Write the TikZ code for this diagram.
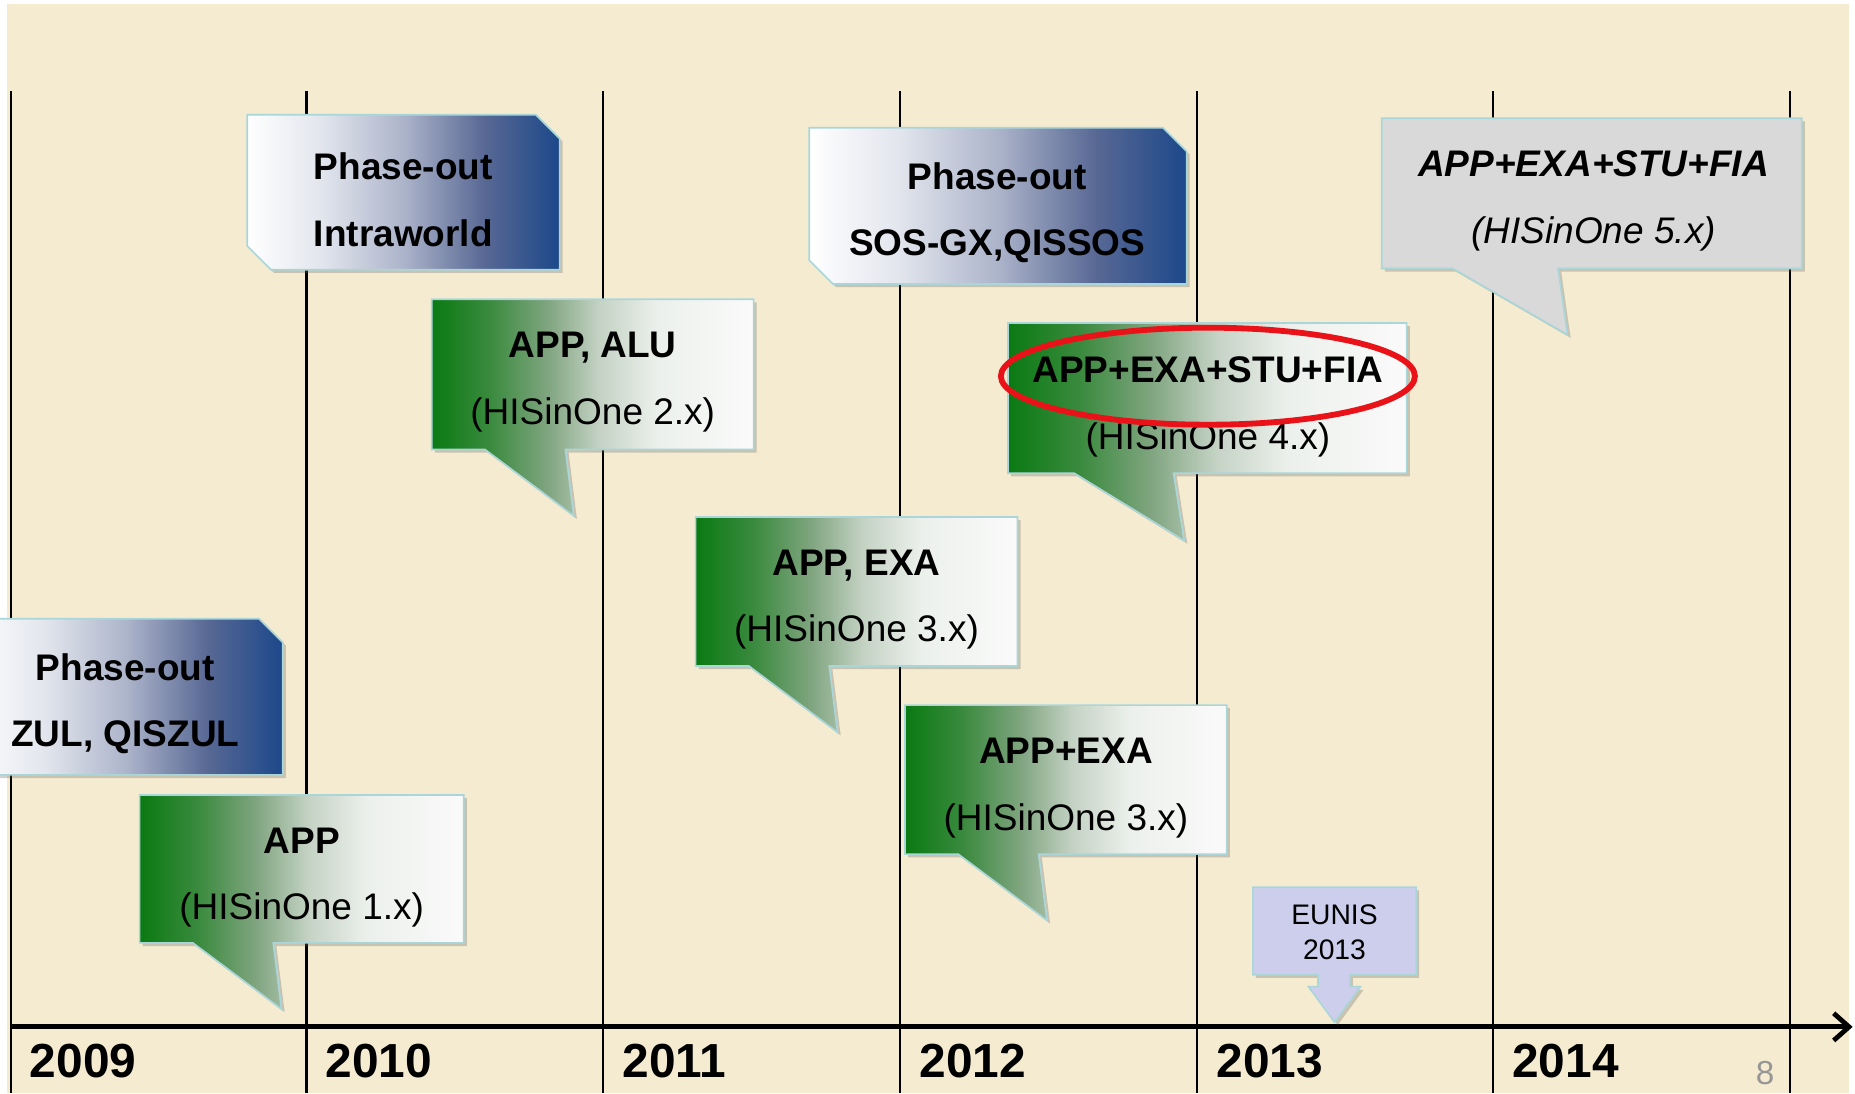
\documentclass[tikz,border=0pt]{standalone}
\usepackage{xcolor}
\usepackage{fontspec}
\setmainfont{Liberation Sans}
\usepackage{tikz}
\usetikzlibrary{positioning,arrows.meta,shadows}

\definecolor{cream}{RGB}{245,235,208}
\definecolor{boxedge}{RGB}{170,214,218}
\definecolor{phaseblue}{RGB}{28,72,138}
\definecolor{appgreen}{RGB}{10,122,18}
\definecolor{futuregray}{RGB}{217,217,217}
\definecolor{eunisblue}{RGB}{205,206,236}
\definecolor{ringred}{RGB}{232,18,24}
\definecolor{pagegray}{RGB}{150,150,150}
%shading steps
\definecolor{blueA}{RGB}{226,229,237}
\definecolor{blueB}{RGB}{172,180,202}
\definecolor{blueC}{RGB}{88,104,148}
\definecolor{greenA}{RGB}{58,138,62}
\definecolor{greenB}{RGB}{128,165,128}
\definecolor{greenC}{RGB}{196,210,196}
\definecolor{greenD}{RGB}{236,240,236}
\definecolor{greenE}{RGB}{250,250,250}

\pgfdeclarehorizontalshading{bluefade}{100bp}{color(0bp)=(white); color(25bp)=(white); color(37bp)=(blueA); color(50bp)=(blueB); color(63bp)=(blueC); color(75bp)=(phaseblue); color(100bp)=(phaseblue)}
\pgfdeclarehorizontalshading{greenfade}{100bp}{color(0bp)=(appgreen); color(25bp)=(appgreen); color(34bp)=(greenA); color(43bp)=(greenB); color(51bp)=(greenC); color(60bp)=(greenD); color(75bp)=(greenE); color(100bp)=(greenE)}

\begin{document}
\begin{tikzpicture}[
				x=0.2mm, y=-0.2mm,
				boxshadow/.style={drop shadow={shadow xshift=1.5pt, shadow yshift=-1.5pt, opacity=0.3, fill=black!60}},
				phasebox/.style={draw=boxedge, line width=0.8pt, shade, shading=bluefade, boxshadow},
				appcallout/.style={draw=boxedge, line width=0.8pt, shade, shading=greenfade, boxshadow},
				nextcallout/.style={draw=boxedge, line width=0.8pt, fill=futuregray, boxshadow},
				eunisarrow/.style={draw=boxedge, line width=0.8pt, fill=eunisblue, boxshadow},
				boxtext/.style={align=center, inner sep=0pt, font=\fontsize{17.8}{32}\selectfont},
				eunistext/.style={align=center, inner sep=0pt, font=\fontsize{13.6}{17}\selectfont},
				yearlabel/.style={anchor=west, inner sep=0pt, font=\bfseries\fontsize{23}{23}\selectfont},
				yearline/.style={line width=1.1pt},
				axisline/.style={line width=2.3pt, -{Straight Barb[length=2.6mm, width=4.6mm]}},
				redring/.style={draw=ringred, line width=2.8pt},
				]
				\useasboundingbox (0,0) rectangle (1568,924);
				\clip (0,0) rectangle (1568,924);
				\fill[white] (0,0) rectangle (1568,924);
				\fill[cream] (6,3) rectangle (1563,924);
				
				%Year lines
				\draw[yearline] (9,77) -- (9,924);
				\draw[yearline] (259,77) -- (259,924);
				\draw[yearline] (510,77) -- (510,924);
				\draw[yearline] (761,77) -- (761,924);
				\draw[yearline] (1012,77) -- (1012,924);
				\draw[yearline] (1262,77) -- (1262,924);
				\draw[yearline] (1513,77) -- (1513,924);
				
				%Axis
				\coordinate (axisstart) at (9,868);
				\coordinate (axisend) at (1566,868);
				\draw[axisline] (axisstart) -- (axisend);
				
				%Years
				\node[yearlabel] (y2009) at (25,897) {2009};
				\node[yearlabel] (y2010) at (275,897) {2010};
				\node[yearlabel] (y2011) at (526,897) {2011};
				\node[yearlabel] (y2012) at (777,897) {2012};
				\node[yearlabel] (y2013) at (1028,897) {2013};
				\node[yearlabel] (y2014) at (1278,897) {2014};
				\node[font=\fontsize{16}{16}\selectfont, text=pagegray, inner sep=0pt] (pagenum) at (1492,907) {8};
				
				%Phase-out boxes
				\draw[phasebox] (209,97) -- (453,97) -- (473,117) -- (473,228) -- (229,228) -- (209,208) -- cycle;
				\draw[phasebox] (684,108) -- (983,108) -- (1003,128) -- (1003,240) -- (704,240) -- (684,220) -- cycle;
				\draw[phasebox] (-25,523) -- (219,523) -- (239,543) -- (239,655) -- (-5,655) -- (-25,635) -- cycle;
				
				%Release callouts
				\draw[appcallout] (118,672) -- (392,672) -- (392,797) -- (231,797) -- (238,853) -- (163,797) -- (118,797) -- cycle;
				\draw[appcallout] (365,253) -- (637,253) -- (637,380) -- (478,380) -- (485,436) -- (410,380) -- (365,380) -- cycle;
				\draw[appcallout] (588,437) -- (860,437) -- (860,563) -- (701,563) -- (708,619) -- (633,563) -- (588,563) -- cycle;
				\draw[appcallout] (765,596) -- (1037,596) -- (1037,722) -- (878,722) -- (885,778) -- (810,722) -- (765,722) -- cycle;
				\draw[appcallout] (852,273) -- (1189,273) -- (1189,400) -- (992,400) -- (1001,457) -- (908,400) -- (852,400) -- cycle;
				\draw[nextcallout] (1168,100) -- (1523,100) -- (1523,227) -- (1317,227) -- (1325,283) -- (1228,227) -- (1168,227) -- cycle;
				\draw[eunisarrow] (1059,750) -- (1197,750) -- (1197,824) -- (1141,824) -- (1141,834) -- (1150,834) -- (1128,864) -- (1106,834) -- (1114,834) -- (1114,824) -- (1059,824) -- cycle;
				
				%Nodes
				\node[boxtext, font=\bfseries\fontsize{17.8}{32}\selectfont] (intra) at (341,169) {Phase-out\\Intraworld};
				\node[boxtext, font=\bfseries\fontsize{17.8}{32}\selectfont] (sosgx) at (843,180) {Phase-out\\SOS-GX,QISSOS};
				\node[boxtext, font=\bfseries\fontsize{17.8}{32}\selectfont] (zul) at (106,595) {Phase-out\\ZUL, QISZUL};
				\node[boxtext] (rel1) at (255,742) {\textbf{APP}\\(HISinOne 1.x)};
				\node[boxtext] (rel2) at (501,323) {\textbf{APP, ALU}\\(HISinOne 2.x)};
				\node[boxtext] (rel3) at (724,507) {\textbf{APP, EXA}\\(HISinOne 3.x)};
				\node[boxtext] (rel3b) at (901,666) {\textbf{APP+EXA}\\(HISinOne 3.x)};
				\node[boxtext] (rel4) at (1021,344) {\textbf{APP+EXA+STU+FIA}\\(HISinOne 4.x)};
				\node[boxtext, font=\itshape\fontsize{17.8}{32}\selectfont] (rel5) at (1347,170) {\textbf{APP+EXA+STU+FIA}\\(HISinOne 5.x)};
				\node[eunistext] (eunis) at (1128,788) {EUNIS\\2013};
				
				%Highlight
				\draw[redring] (1021,318) ellipse [x radius=175, y radius=41];
				
			\end{tikzpicture}
\end{document}
